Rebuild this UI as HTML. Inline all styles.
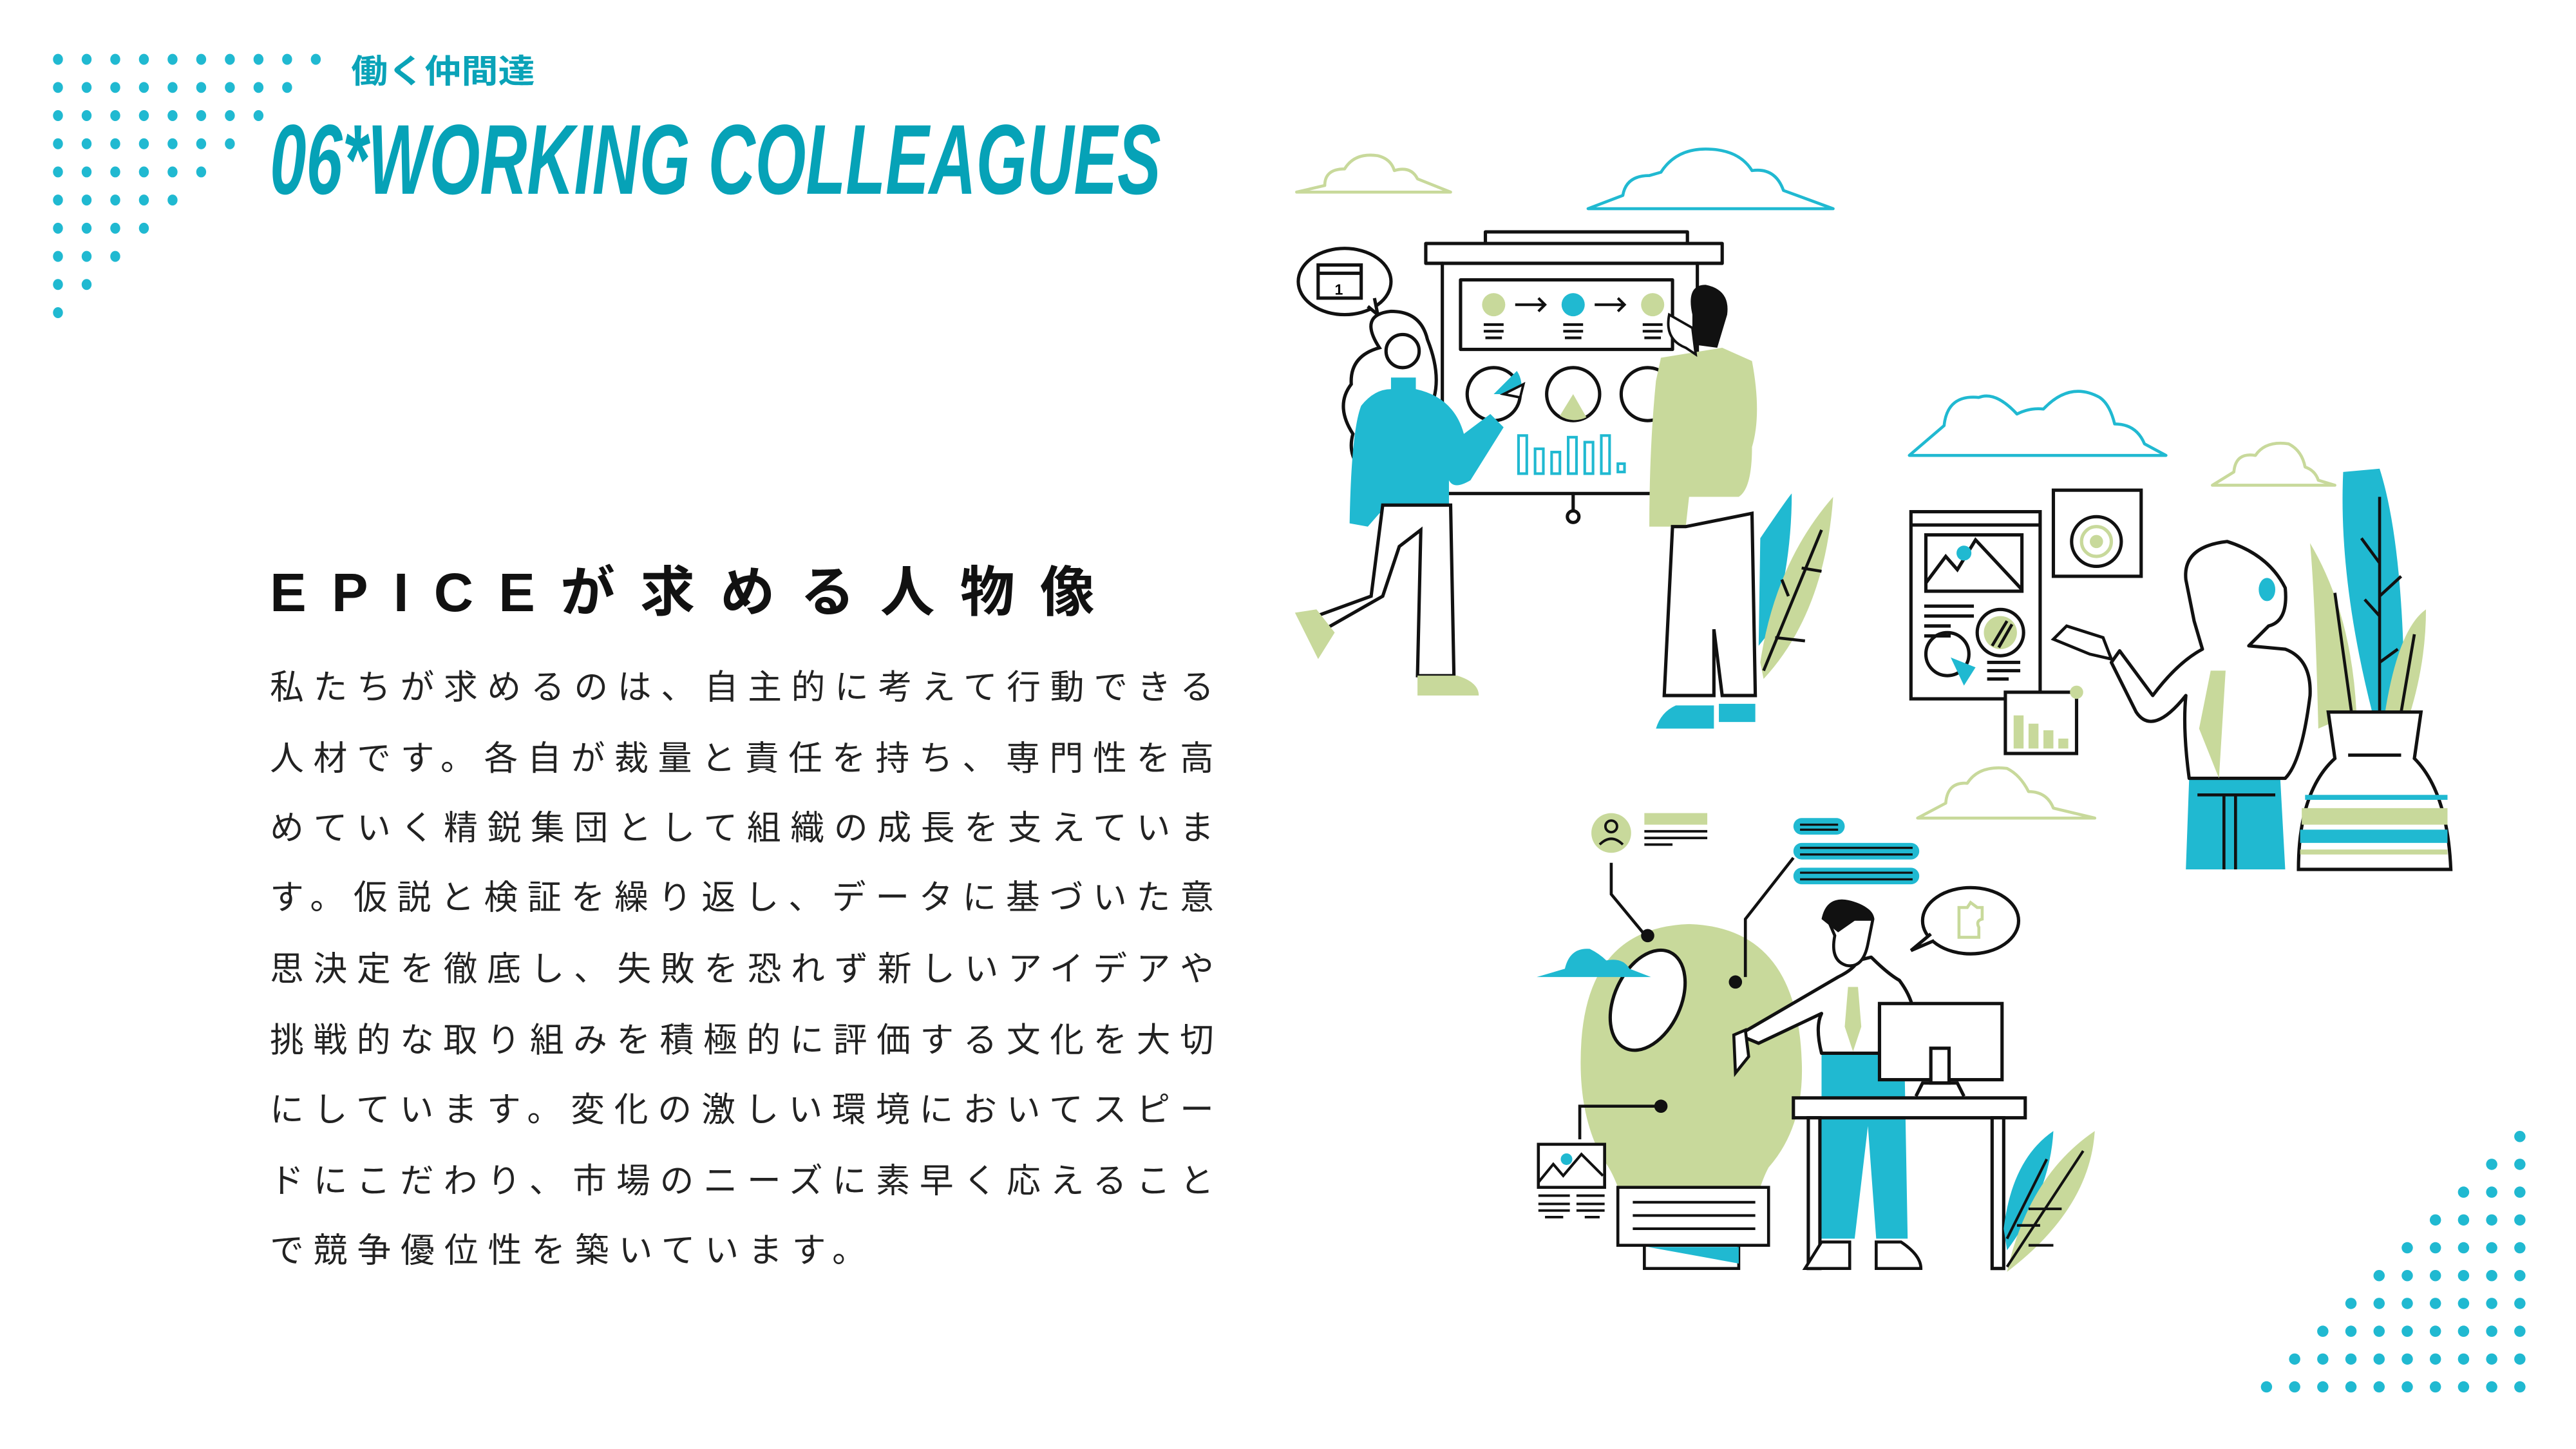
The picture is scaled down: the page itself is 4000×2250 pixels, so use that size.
<!DOCTYPE html>
<html><head><meta charset="utf-8"><style>
html,body{margin:0;padding:0;background:#fff;}
svg{display:block;}
</style></head><body>
<svg xmlns="http://www.w3.org/2000/svg" width="4000" height="2250" viewBox="0 0 1555.6 875">
<rect width="1555.6" height="875" fill="#fff"/>
<g fill="#20b9d1" id="tl"></g>
<g fill="#20b9d1" id="br"></g>

<text x="212" y="50" font-family="'Liberation Sans','Noto Sans CJK JP',sans-serif" font-size="20" font-weight="bold" fill="#0aa3b8" textLength="111" lengthAdjust="spacingAndGlyphs">働く仲間達</text>
<text x="163" y="117" font-family="'Liberation Sans',sans-serif" font-size="60" font-weight="bold" font-style="italic" fill="#06a2b7" textLength="538" lengthAdjust="spacingAndGlyphs">06*WORKING COLLEAGUES</text>
<text x="163" y="369" font-family="'Liberation Sans','Noto Sans CJK JP',sans-serif" font-size="33" font-weight="bold" fill="#111" textLength="498" lengthAdjust="spacing">EPICEが求める人物像</text>
<g font-family="'Liberation Sans','Noto Sans CJK JP',sans-serif" font-size="20.5" fill="#222">
<text x="163" y="422" textLength="570" lengthAdjust="spacing">私たちが求めるのは、自主的に考えて行動できる</text>
<text x="163" y="465" textLength="570" lengthAdjust="spacing">人材です。各自が裁量と責任を持ち、専門性を高</text>
<text x="163" y="507" textLength="570" lengthAdjust="spacing">めていく精鋭集団として組織の成長を支えていま</text>
<text x="163" y="549" textLength="570" lengthAdjust="spacing">す。仮説と検証を繰り返し、データに基づいた意</text>
<text x="163" y="592" textLength="570" lengthAdjust="spacing">思決定を徹底し、失敗を恐れず新しいアイデアや</text>
<text x="163" y="635" textLength="570" lengthAdjust="spacing">挑戦的な取り組みを積極的に評価する文化を大切</text>
<text x="163" y="677" textLength="570" lengthAdjust="spacing">にしています。変化の激しい環境においてスピー</text>
<text x="163" y="720" textLength="570" lengthAdjust="spacing">ドにこだわり、市場のニーズに素早く応えること</text>
<text x="163" y="762" textLength="360" lengthAdjust="spacing">で競争優位性を築いています。</text>
</g>

<!-- ===== Scene 1 ===== -->
<g fill="none" stroke-linejoin="round" stroke-linecap="round">
<path d="M783 116 L800 112 Q800 102 812 102 Q818 92 832 94 Q840 96 842 103 Q852 100 856 108 L876 116 Z" stroke="#c8d99b" stroke-width="1.8"/>
<path d="M959 126 L980 118 Q982 106 996 106 L1003 104 Q1012 90 1030 90 Q1050 90 1058 103 Q1072 101 1077 115 L1107 126 Z" stroke="#20b9d1" stroke-width="1.8"/>
</g>
<g stroke="#111" stroke-width="2" fill="#fff" stroke-linejoin="round" stroke-linecap="round">
<rect x="897" y="140" width="122" height="7"/>
<rect x="861" y="147" width="179" height="12"/>
<line x1="871" y1="159" x2="871" y2="298"/>
<line x1="1025" y1="159" x2="1025" y2="298"/>
<line x1="871" y1="298" x2="1025" y2="298"/>
<rect x="882" y="169" width="128" height="42"/>
<line x1="950" y1="298" x2="950" y2="309"/>
<circle cx="950" cy="312" r="3.5"/>
<circle cx="902" cy="238" r="16"/>
<circle cx="950" cy="238" r="16"/>
<circle cx="995" cy="238" r="16"/>
</g>
<circle cx="902" cy="184" r="7" fill="#c8d99b"/><circle cx="950" cy="184" r="7" fill="#20b9d1"/><circle cx="998" cy="184" r="7" fill="#c8d99b"/>
<path d="M902 238 L916 224 A16 16 0 0 1 918 238 Z" fill="#20b9d1"/>
<path d="M950 238 L942 251 A16 16 0 0 0 958 252 Z" fill="#c8d99b"/>
<g stroke="#111" stroke-width="1.6" fill="none">
<path d="M915 184 H933 M929 180 L933 184 L929 188 M963 184 H981 M977 180 L981 184 L977 188"/>
<path d="M896 196 H908 M896 200 H908 M897 204 H907 M944 196 H956 M944 200 H956 M945 204 H955 M992 196 H1004 M992 200 H1004 M993 204 H1003"/>
</g>
<g stroke="#20b9d1" stroke-width="1.6" fill="none">
<rect x="917" y="263" width="5" height="23"/><rect x="927" y="271" width="5" height="15"/><rect x="937" y="273" width="5" height="13"/><rect x="947" y="264" width="5" height="22"/><rect x="957" y="267" width="5" height="19"/><rect x="967" y="263" width="5" height="23"/><rect x="977" y="280" width="4" height="5"/>
</g>
<ellipse cx="812" cy="170" rx="28" ry="20" fill="#fff" stroke="#111" stroke-width="2"/>
<path d="M826 185 L832 190 L830 180" fill="#fff" stroke="#111" stroke-width="2"/>
<rect x="796" y="160" width="26" height="20" fill="#fff" stroke="#111" stroke-width="2"/>
<line x1="796" y1="165" x2="822" y2="165" stroke="#111" stroke-width="2"/>
<text x="806" y="178" font-family="'Liberation Sans',sans-serif" font-size="9" font-weight="bold">1</text>
<path d="M833 210 Q820 190 840 188 Q858 188 862 205 Q870 225 866 240 Q875 255 868 268 L832 290 Q812 280 817 262 Q806 245 816 232 Q815 215 833 210 Z" fill="#fff" stroke="#111" stroke-width="2"/>
<circle cx="847" cy="212" r="10" fill="#fff" stroke="#111" stroke-width="2"/>
<path d="M840 228 H855 V235 Q878 240 884 262 L900 250 L908 258 L888 290 Q878 296 875 290 V305 L833 310 L826 318 L815 316 Q816 260 822 245 Q830 235 840 235 Z" fill="#20b9d1"/>
<path d="M835 305 L828 360 L795 372 L800 380 L835 360 L845 330 L858 320 L856 408 L878 408 L876 305 Z" fill="#fff" stroke="#111" stroke-width="2"/>
<path d="M782 370 L795 368 L806 382 L796 398 Z M856 408 L880 408 Q893 412 893 420 L856 420 Z" fill="#c8d99b"/>
<path d="M908 238 L920 232 L918 240 Z" fill="#fff" stroke="#111" stroke-width="1.5"/>
<path d="M1003 216 L1040 210 L1058 218 Q1064 250 1058 270 Q1058 295 1050 300 L1020 300 L1018 318 L996 318 Q996 270 1000 230 Z" fill="#c8d99b"/>
<path d="M1022 190 Q1018 172 1030 172 Q1045 175 1043 190 L1037 210 L1022 208 Z" fill="#111"/>
<path d="M1008 190 Q1005 205 1018 210 L1024 214 L1022 198 Z" fill="#fff" stroke="#111" stroke-width="1.5"/>
<path d="M1010 318 L1005 420 L1035 420 L1035 380 L1040 420 L1060 420 L1058 310 L1018 318 Z" fill="#fff" stroke="#111" stroke-width="2"/>
<path d="M1000 440 Q1003 430 1012 426 L1035 426 L1035 440 Z M1038 425 L1060 425 L1060 436 L1038 436 Z" fill="#20b9d1"/>
<path d="M1063 325 Q1080 300 1082 298 Q1082 340 1070 380 L1062 390 Z" fill="#20b9d1"/>
<path d="M1063 400 Q1072 340 1107 300 Q1102 370 1065 410 Z" fill="#c8d99b"/>
<path d="M1065 405 L1100 320 M1072 385 L1090 387 M1080 360 L1076 350 M1088 343 L1100 345" stroke="#111" stroke-width="1.8" fill="none"/>
<!-- ===== Scene 2 ===== -->
<g fill="none" stroke-linejoin="round">
<path d="M1153 275 L1174 257 Q1176 238 1195 240 Q1205 236 1218 250 Q1226 246 1234 247 Q1250 230 1268 240 Q1274 244 1277 256 Q1290 256 1295 268 L1308 275 Z" stroke="#20b9d1" stroke-width="1.8"/>
<path d="M1336 293 L1349 285 Q1350 273 1362 275 Q1368 266 1382 268 Q1390 272 1392 282 Q1398 284 1400 290 L1410 293 Z" stroke="#c8d99b" stroke-width="1.8"/>
<path d="M1158 494 L1175 485 Q1176 472 1188 473 Q1195 462 1212 464 Q1220 468 1225 478 Q1236 478 1240 488 L1265 494 Z" stroke="#c8d99b" stroke-width="1.8"/>
</g>
<g stroke="#111" stroke-width="2" fill="#fff">
<rect x="1154" y="309" width="78" height="113"/>
<line x1="1154" y1="317" x2="1232" y2="317"/>
<rect x="1163" y="323" width="58" height="34"/>
<path d="M1163 352 L1175 336 L1182 344 L1193 326 L1221 356" fill="none"/>
<circle cx="1208" cy="382" r="14"/>
<circle cx="1176" cy="395" r="13"/>
<rect x="1240" y="296" width="53" height="52"/>
<circle cx="1266" cy="327" r="15"/>
<rect x="1211" y="418" width="43" height="37"/>
<path d="M1162 366 H1192 M1162 372 H1192 M1162 378 H1178 M1162 384 H1178 M1200 400 H1220 M1200 405 H1220 M1200 410 H1213" fill="none"/>
</g>
<circle cx="1186" cy="334" r="4.5" fill="#20b9d1"/>
<circle cx="1208" cy="382" r="10" fill="#c8d99b"/>
<path d="M1203 390 L1212 375 M1207 391 L1215 377" stroke="#111" stroke-width="1.8"/>
<path d="M1178 397 L1193 403 L1186 414 Z" fill="#20b9d1"/>
<circle cx="1266" cy="327" r="9" fill="none" stroke="#c8d99b" stroke-width="2"/><circle cx="1266" cy="327" r="4" fill="#c8d99b"/>
<rect x="1216" y="432" width="6" height="20" fill="#c8d99b"/><rect x="1225" y="437" width="6" height="15" fill="#c8d99b"/><rect x="1234" y="441" width="6" height="11" fill="#c8d99b"/><rect x="1243" y="446" width="6" height="6" fill="#c8d99b"/>
<circle cx="1254" cy="418" r="4" fill="#c8d99b"/>
<path d="M1322 470 L1320 525 L1380 525 L1377 470 Z" fill="#20b9d1"/>
<path d="M1327 480 L1374 480 M1343 480 V525 M1350 480 V525" stroke="#111" stroke-width="1.8"/>
<path d="M1320 350 Q1318 330 1345 327 Q1370 335 1380 355 Q1382 375 1370 378 L1358 390 L1380 392 Q1396 398 1395 420 Q1390 460 1380 470 L1322 470 Q1318 440 1320 420 Q1300 445 1290 430 L1275 400 L1280 393 L1300 420 Q1315 400 1330 392 L1325 375 Z" fill="#fff" stroke="#111" stroke-width="2" stroke-linejoin="round"/>
<path d="M1335 405 L1344 405 L1340 470 L1328 440 Z" fill="#c8d99b"/>
<ellipse cx="1369" cy="356" rx="5" ry="7" fill="#20b9d1"/>
<path d="M1248 378 L1270 385 L1275 398 L1262 395 L1240 386 Z" fill="#fff" stroke="#111" stroke-width="1.8"/>
<path d="M1433 432 Q1412 350 1415 285 L1437 283 Q1452 330 1452 432 Z" fill="#20b9d1"/>
<path d="M1400 440 Q1398 360 1395 328 Q1420 370 1423 430 Z M1440 432 Q1448 380 1465 368 Q1465 400 1455 432 Z" fill="#c8d99b"/>
<path d="M1437 300 V430 M1437 340 L1426 325 M1437 360 L1450 348 M1437 372 L1428 362 M1437 400 L1448 392 M1410 358 L1420 430 M1458 383 L1450 430" stroke="#111" stroke-width="1.8" fill="none"/>
<path d="M1406 430 L1462 430 L1458 458 Q1478 478 1480 525 L1388 525 Q1388 478 1410 458 Z" fill="#fff" stroke="#111" stroke-width="2"/>
<rect x="1392" y="480" width="86" height="3" fill="#20b9d1"/>
<rect x="1390" y="488" width="88" height="10" fill="#c8d99b"/>
<rect x="1389" y="501" width="89" height="8" fill="#20b9d1"/>
<rect x="1389" y="513" width="89" height="3" fill="#c8d99b"/>
<line x1="1418" y1="456" x2="1450" y2="456" stroke="#111" stroke-width="2"/>
<!-- ===== Scene 3 ===== -->
<path d="M1020 558 Q1085 560 1088 640 Q1090 680 1068 705 Q1060 720 1055 752 L985 752 Q980 715 968 700 Q952 672 955 628 Q960 560 1020 558 Z" fill="#c8d99b"/>
<ellipse cx="995" cy="604" rx="20" ry="32" transform="rotate(25 995 604)" fill="#fff" stroke="#111" stroke-width="2"/>
<path d="M928 590 L945 585 Q948 572 960 573 Q966 576 970 580 Q980 578 984 585 L997 590 Z" fill="#20b9d1"/>
<circle cx="973" cy="503" r="12" fill="#c8d99b"/>
<circle cx="973" cy="499" r="3.5" fill="none" stroke="#111" stroke-width="1.5"/>
<path d="M966 510 Q973 503 980 510" fill="none" stroke="#111" stroke-width="1.5"/>
<rect x="993" y="491" width="38" height="7" fill="#c8d99b"/>
<path d="M993 502 H1031 M993 506 H1031 M993 510 H1010" stroke="#111" stroke-width="1.5"/>
<rect x="1083" y="494" width="31" height="10" rx="5" fill="#20b9d1"/>
<rect x="1083" y="509" width="76" height="10" rx="5" fill="#20b9d1"/>
<rect x="1083" y="524" width="76" height="10" rx="5" fill="#20b9d1"/>
<path d="M1087 498 H1110 M1087 501 H1110 M1087 512 H1155 M1087 516 H1155 M1087 527 H1155 M1087 531 H1155" stroke="#111" stroke-width="1.3"/>
<path d="M973 521 V540 L992 563 M1083 518 L1054 555 V590 M1002 668 H954 V688" fill="none" stroke="#111" stroke-width="1.8"/>
<circle cx="995" cy="565" r="4" fill="#111"/><circle cx="1048" cy="593" r="4" fill="#111"/><circle cx="1003" cy="668" r="4" fill="#111"/>
<rect x="929" y="691" width="40" height="26" fill="#fff" stroke="#111" stroke-width="1.8"/>
<circle cx="946" cy="700" r="3.5" fill="#20b9d1"/>
<path d="M929 714 L938 703 L944 710 L955 697 L968 710" fill="none" stroke="#111" stroke-width="1.6"/>
<path d="M929 722 H948 M952 722 H969 M929 727 H948 M952 727 H969 M929 731 H948 M952 731 H969 M933 735 H944 M957 735 H966" stroke="#111" stroke-width="1.5"/>
<rect x="993" y="751" width="57" height="15" fill="#fff" stroke="#111" stroke-width="1.8"/>
<path d="M995 753 L1050 763 V753 Z" fill="#20b9d1"/>
<rect x="977" y="717" width="91" height="35" fill="#fff" stroke="#111" stroke-width="1.8"/>
<path d="M986 726 H1060 M986 734 H1060 M986 742 H1060" stroke="#111" stroke-width="1.6"/>
<path d="M1100 636 L1150 636 L1152 748 L1133 748 L1128 680 L1120 748 L1100 748 Z" fill="#20b9d1"/>
<path d="M1110 590 Q1120 585 1122 580 L1130 578 Q1140 588 1147 592 Q1153 600 1155 608 L1135 608 L1135 636 L1100 636 Q1096 620 1100 612 L1062 630 L1050 625 Z" fill="#fff" stroke="#111" stroke-width="2" stroke-linejoin="round"/>
<path d="M1116 596 L1122 596 L1124 620 L1119 635 L1114 620 Z" fill="#c8d99b"/>
<path d="M1047 625 L1054 622 L1056 638 L1048 648 Z" fill="#fff" stroke="#111" stroke-width="1.8"/>
<path d="M1105 558 Q1102 545 1118 546 Q1130 548 1131 555 L1128 570 Q1125 585 1115 583 Q1105 580 1108 565 Z" fill="#fff" stroke="#111" stroke-width="1.8"/>
<path d="M1100 555 Q1103 540 1118 544 Q1132 548 1131 556 L1120 556 L1110 563 Z" fill="#111"/>
<rect x="1135" y="606" width="74" height="46" fill="#fff" stroke="#111" stroke-width="2"/>
<rect x="1166" y="633" width="11" height="21" fill="#fff" stroke="#111" stroke-width="2"/>
<path d="M1157 662 L1161 654 L1182 654 L1186 662" fill="none" stroke="#111" stroke-width="2"/>
<rect x="1083" y="663" width="140" height="12" fill="#fff" stroke="#111" stroke-width="2"/>
<rect x="1092" y="675" width="7" height="91" fill="#fff" stroke="#111" stroke-width="2"/>
<rect x="1203" y="675" width="7" height="91" fill="#fff" stroke="#111" stroke-width="2"/>
<path d="M1100 750 L1117 750 L1117 766 L1090 766 Z M1133 750 L1148 750 Q1160 758 1160 766 L1133 766 Z" fill="#fff" stroke="#111" stroke-width="1.8"/>
<ellipse cx="1190" cy="556" rx="29" ry="20" fill="#fff" stroke="#111" stroke-width="2"/>
<path d="M1166 564 L1154 574 L1168 568" fill="#fff" stroke="#111" stroke-width="2"/>
<path d="M1183 548 H1188 L1190 545 L1194 548 H1197 V555 Q1193 556 1195 560 V566 H1183 Z" fill="none" stroke="#c8d99b" stroke-width="1.8"/>
<path d="M1210 742 Q1215 700 1240 683 Q1238 720 1212 755 Z" fill="#20b9d1"/>
<path d="M1212 768 Q1225 710 1265 683 Q1262 730 1212 768 Z" fill="#c8d99b"/>
<path d="M1212 748 L1236 700 M1212 765 L1258 695 M1218 740 L1232 740 M1225 730 L1245 730 M1225 752 L1240 752" stroke="#111" stroke-width="1.6" fill="none"/>
</svg>
<script>
(function(){
var ns="http://www.w3.org/2000/svg";
var tl=document.getElementById("tl"),br=document.getElementById("br");
for(var r=0;r<10;r++){for(var c=0;c<10-r;c++){var e=document.createElementNS(ns,"ellipse");e.setAttribute("cx",35+c*17.3);e.setAttribute("cy",35.8+r*17);e.setAttribute("rx",3);e.setAttribute("ry",3.3);tl.appendChild(e);}}
for(var r=0;r<10;r++){for(var c=0;c<=r;c++){var e=document.createElementNS(ns,"circle");e.setAttribute("cx",1521.7-c*17);e.setAttribute("cy",686.3+r*16.8);e.setAttribute("r",3.4);br.appendChild(e);}}
})();
</script>
</body></html>
